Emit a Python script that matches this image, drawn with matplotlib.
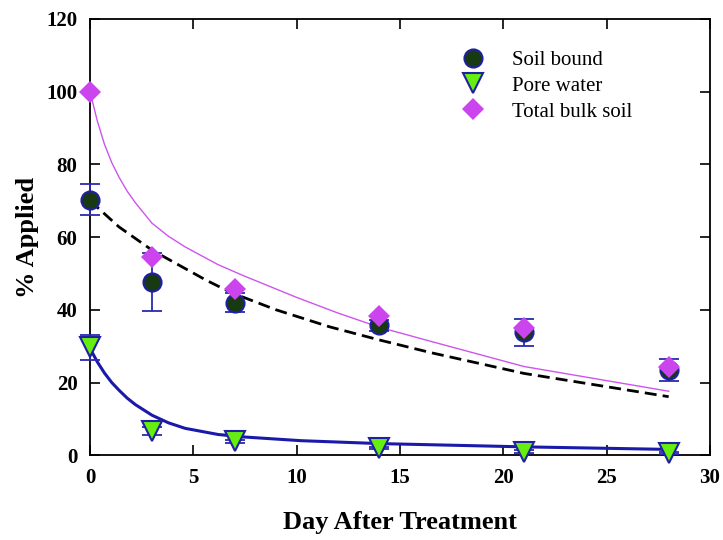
import matplotlib
matplotlib.use("Agg")
import matplotlib.pyplot as plt

# measured points
days = [0, 3, 7, 14, 21, 28]
soil_bound = [70.3, 47.6, 42.0, 35.8, 33.8, 23.4]
soil_bound_err = [4.2, 8.0, 2.5, 1.5, 3.8, 3.0]
pore_water = [29.7, 6.6, 3.8, 2.0, 1.0, 0.5]
pore_water_err = [3.5, 1.1, 0.5, 0.3, 0.3, 0.3]
total_bulk = [100.0, 54.4, 45.7, 38.3, 35.0, 24.3]

# fitted curves
fit_bulk_x = [0, 0.35, 0.7, 1.05, 1.4, 1.8, 2.2, 3.0, 3.8, 4.6, 6.2, 7.5, 10.0, 12.0,
              14.0, 16.5, 21.0, 28.0]
fit_bulk_y = [100, 92.0, 85.5, 80.5, 76.5, 72.6, 69.4, 63.8, 60.2, 57.3, 52.4, 49.2,
              43.4, 39.1, 35.2, 31.3, 24.4, 17.6]
fit_soil_x = [0, 1.4, 3.0, 5.6, 6.8, 9.0, 11.6, 14.0, 16.5, 21.0, 28.0]
fit_soil_y = [70.0, 62.8, 56.4, 48.2, 44.8, 40.0, 35.3, 31.7, 28.2, 22.5, 16.1]
fit_pore_x = [0, 0.35, 0.7, 1.05, 1.4, 1.8, 2.2, 3.0, 3.8, 4.6, 6.2, 7.5, 10.2, 14.0,
              21.0, 28.0]
fit_pore_y = [29.4, 25.7, 22.6, 20.0, 17.9, 15.7, 13.9, 11.0, 8.9, 7.4, 5.7, 5.0, 4.0,
              3.2, 2.3, 1.6]

plt.rcParams["font.family"] = ["Liberation Serif", "DejaVu Serif"]

fig = plt.figure(figsize=(7.23, 5.40), dpi=100)
ax = fig.add_axes([0.1245, 0.157, 0.8575, 0.808])

ax.plot(fit_bulk_x, fit_bulk_y, color="#cc55ee", lw=1.0, zorder=2)
ax.plot(fit_soil_x, fit_soil_y, color="black", lw=2.0, ls=(0, (4.3, 2.2)), zorder=2)
ax.plot(fit_pore_x, fit_pore_y, color="#1a1aaa", lw=2.2, zorder=2)

ax.errorbar(days, soil_bound, yerr=soil_bound_err, fmt="none", ecolor="#2a2ab0",
            elinewidth=1.3, capsize=7, capthick=1.3, zorder=3, clip_on=False)
ax.errorbar(days, pore_water, yerr=pore_water_err, fmt="none", ecolor="#2a2ab0",
            elinewidth=1.3, capsize=7, capthick=1.3, zorder=3, clip_on=False)

ax.plot(days, soil_bound, ls="none", marker="o", ms=13, mfc="#173a12", mec="#2020a0",
        mew=1.5, label="Soil bound", zorder=4, clip_on=False)
ax.plot(days, pore_water, ls="none", marker="v", ms=14, mfc="#66ee11", mec="#2020a0",
        mew=1.5, label="Pore water", zorder=4, clip_on=False)
ax.plot(days, total_bulk, ls="none", marker="D", ms=11, mfc="#cc44ee", mec="#cc44ee",
        mew=0, label="Total bulk soil", zorder=5, clip_on=False)

ax.set_xlim(0, 30)
ax.set_ylim(0, 120)
ax.set_xticks(range(0, 31, 5))
ax.set_yticks(range(0, 121, 20))
ax.tick_params(direction="in", top=True, right=True, length=7, width=1.2,
               labelsize=15, pad=9)
for lab in ax.get_xticklabels() + ax.get_yticklabels():
    lab.set_fontweight("bold")
for sp in ax.spines.values():
    sp.set_linewidth(1.3)

ax.set_xlabel("Day After Treatment", fontsize=19, fontweight="bold", labelpad=17)
ax.set_ylabel("% Applied", fontsize=19, fontweight="bold", labelpad=5)

ax.legend(loc="upper left", bbox_to_anchor=(0.57, 0.947), frameon=False,
          fontsize=15, handletextpad=0.9, labelspacing=0.3, borderaxespad=0)

fig.savefig("out.png", dpi=100)
